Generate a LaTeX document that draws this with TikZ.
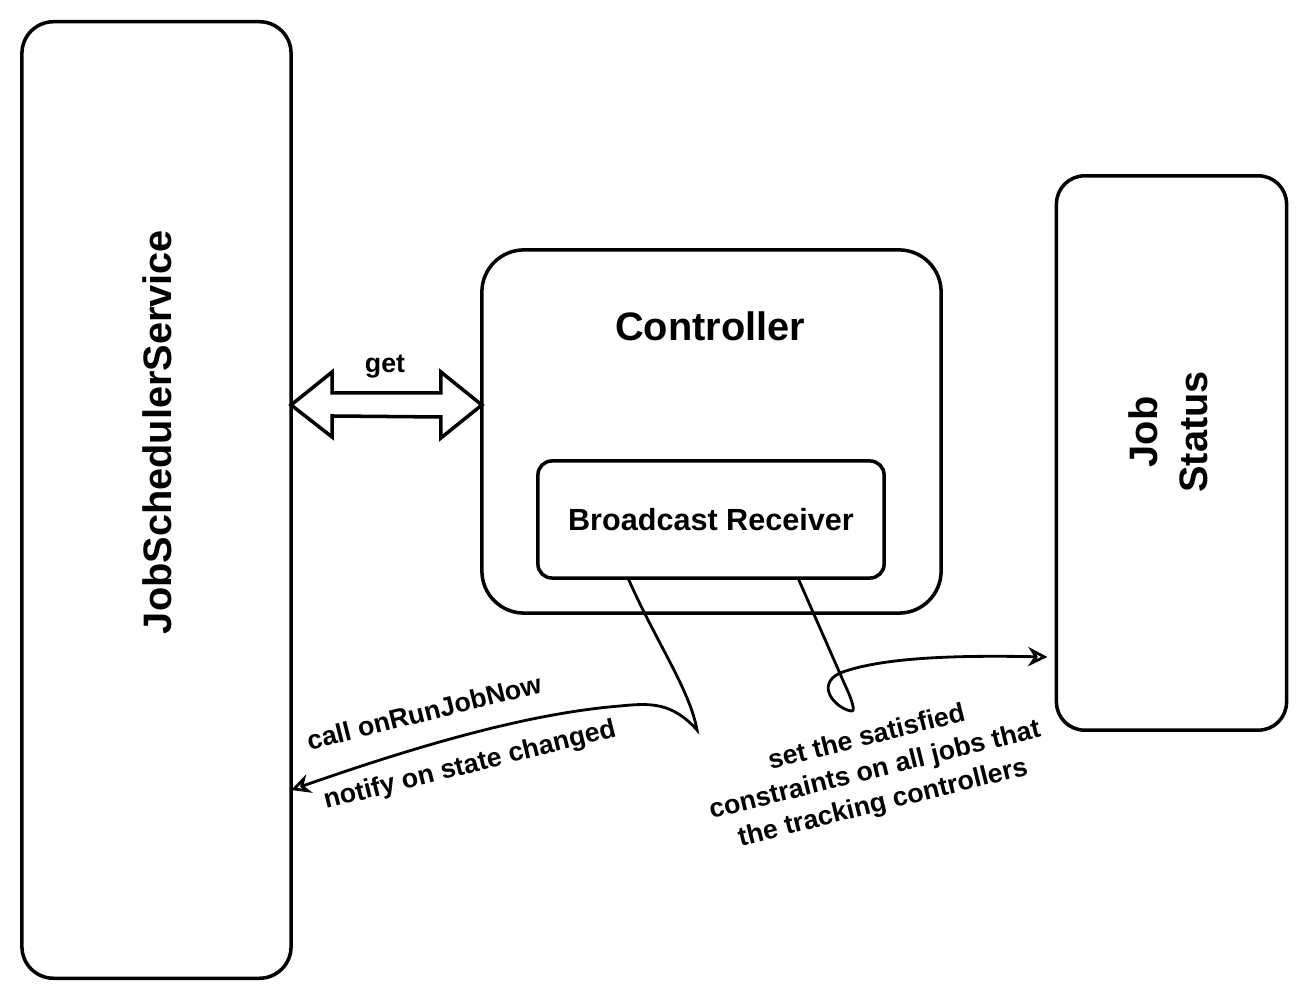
\documentclass[tikz,border=0pt]{standalone}
\usepackage{fontspec}
\setmainfont{Liberation Sans}
\usepackage{tikz}
\usetikzlibrary{calc, arrows.meta}
\definecolor{Ink}{HTML}{000000}

\begin{document}
\begin{tikzpicture}[x=0.01cm, y=-0.01cm,
    box/.style={draw=Ink, line width=1pt, inner sep=0pt, outer sep=0pt},
    title/.style={font=\fontsize{11.3}{14.2}\selectfont\bfseries, text=Ink, align=center},
    small/.style={font=\fontsize{7.6}{9.6}\selectfont\bfseries, text=Ink, align=center},
    note/.style={small, rotate=14},
    link/.style={draw=Ink, line width=0.8pt, -{Stealth[open, length=5.5pt, width=5.5pt]}}]
    \useasboundingbox (0,0) rectangle (1306,998);

    % boxes
    \node[box, rounded corners=9pt, minimum width=2.69cm, minimum height=9.56cm] (sched) at (156.5,500) {};
    \node[title, rotate=90] (schedtitle) at (157,432) {JobSchedulerService};
    \node[box, rounded corners=12pt, minimum width=4.59cm, minimum height=3.63cm] (ctrl) at (711.5,431.5) {};
    \node[title] (ctrltitle) at (710,326) {Controller};
    \node[box, rounded corners=4pt, minimum width=3.46cm, minimum height=1.17cm,
          font=\fontsize{8.7}{10}\selectfont\bfseries] (recv) at (711,519.5) {Broadcast Receiver};
    \node[box, rounded corners=8pt, minimum width=2.30cm, minimum height=5.54cm] (status) at (1171.5,453) {};
    \node[title, rotate=90] (statustitle) at (1168,432) {Job\\Status};

    % get
    \coordinate (getL) at (sched.east |- 0,405);
    \coordinate (getR) at (ctrl.west |- 0,405);
    \draw[draw=Ink, line width=1pt, fill=white] (getL) -- ++(41,-33) -- ++(0,21) -- ($(getR)+(-41,-12)$)
        -- ++(0,-21) -- (getR) -- ++(-41,33) -- ++(0,-21) -- ($(getL)+(41,11)$) -- ++(0,21) -- cycle;
    \node[small] (getlabel) at (385,367) {get};

    % receiver links
    \coordinate (recvL) at ($(recv.south)+(-83,0)$);
    \coordinate (recvR) at ($(recv.south)+(87,0)$);
    \coordinate (schedIn) at (sched.east |- 0,790);
    \coordinate (statusIn) at ($(status.west |- 0,657)+(-9,0)$);
    \draw[link] (recvL) .. controls (655,640) and (690,690) .. (697,730)
        .. controls (672,702) and (650,703) .. (620,706)
        .. controls (520,714) and (400,752) .. (schedIn);
    \draw[link] (recvR) -- (845,685) .. controls (852,700) and (856,712) .. (851,711)
        .. controls (835,708) and (815,685) .. (840,673)
        .. controls (880,658) and (950,655) .. (statusIn);

    \node[note] (callnote) at (424,712) {call onRunJobNow};
    \node[note] (notifynote) at (470,766) {notify on state changed};
    \node[note] (setnote) at (875,771) {set the satisfied\\constraints on all jobs that\\the tracking controllers};
\end{tikzpicture}
\end{document}
